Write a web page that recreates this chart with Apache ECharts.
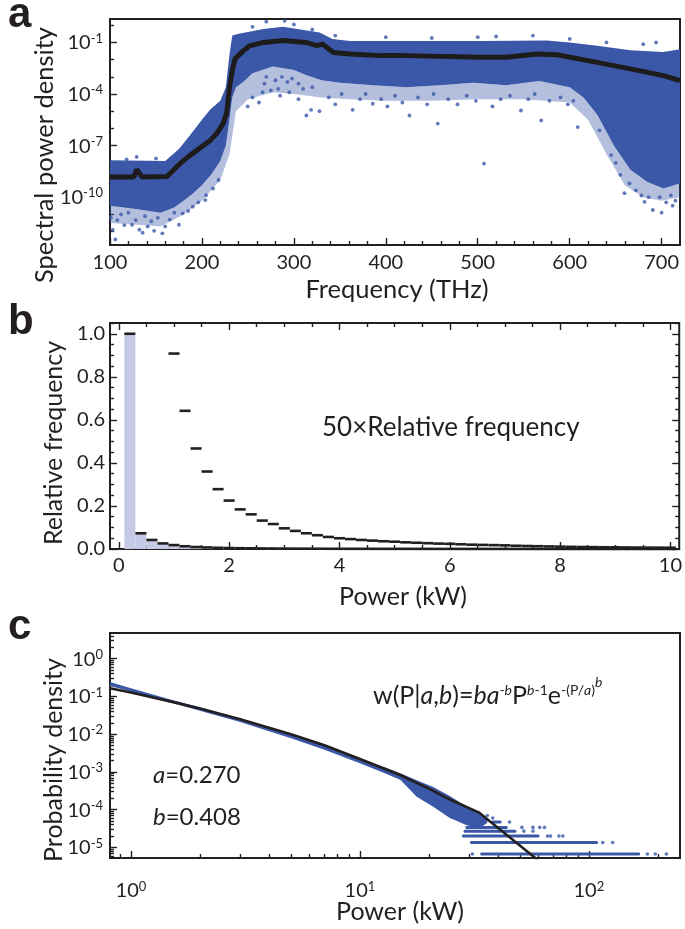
<!DOCTYPE html>
<html><head><meta charset="utf-8">
<script src="https://cdn.jsdelivr.net/npm/echarts@6/dist/echarts.min.js"></script>
<style>html,body{margin:0;padding:0;background:#fff}#c{width:685px;height:929px}</style>
</head><body><div id="c"></div>
<script>
// ================= Panel a : spectral power density =================
const freqTicks = [100, 200, 300, 400, 500, 600, 700];
const specTicks = [1e-10, 1e-7, 1e-4, 1e-1];
// black mean line
const specFreq = [100, 126, 129, 132, 135, 162, 176, 187, 209, 216, 223, 227, 230, 233, 236, 245, 252, 267, 288, 313, 325, 331, 343, 361, 394, 422, 503, 531, 564, 586, 630, 666, 702, 720];
const specMean = [1.5e-9, 1.5e-9, 4.0e-9, 2.5e-9, 1.5e-9, 1.6e-9, 8.9e-9, 2.7e-8, 2.0e-7, 5.0e-7, 1.9e-6, 8.0e-6, 2.5e-4, 2.3e-3, 1.1e-2, 3.3e-2, 6.3e-2, 0.10, 0.13, 0.10, 0.065, 0.08, 0.026, 0.021, 0.017, 0.017, 0.0135, 0.0135, 0.021, 0.019, 0.0069, 0.0029, 0.00117, 0.0006];
// dense blue cloud: upper and lower envelopes
const cloudTopFreq = [100, 160, 175, 187, 200, 209, 220, 226, 230, 233, 240, 267, 288, 328, 342, 361, 394, 503, 575, 600, 630, 666, 702, 720];
const cloudTop = [1.4e-8, 1.26e-8, 6.3e-8, 4e-7, 3.2e-6, 1.26e-5, 4e-5, 2.5e-4, 0.02, 0.25, 0.32, 0.6, 0.8, 0.38, 0.16, 0.12, 0.12, 0.12, 0.13, 0.1, 0.063, 0.035, 0.028, 0.04];
const cloudLowFreq = [100, 130, 155, 170, 180, 190, 200, 210, 220, 226, 230, 233, 237, 245, 255, 277, 300, 313, 330, 350, 386, 422, 459, 495, 531, 567, 600, 615, 630, 648, 666, 684, 702, 720];
const cloudLow = [3.2e-11, 2e-11, 1.26e-11, 2.5e-11, 6.3e-11, 1.6e-10, 5e-10, 2e-9, 1.26e-8, 1e-7, 3.2e-6, 6.3e-5, 2.5e-4, 5e-4, 1.6e-3, 4e-3, 2.5e-3, 1.26e-3, 6.3e-4, 4.5e-4, 3.2e-4, 2.5e-4, 3.2e-4, 4.5e-4, 3.2e-4, 5.6e-4, 2.5e-4, 6.3e-5, 6.3e-6, 1e-7, 4e-9, 7.9e-10, 3.2e-10, 6.3e-10];
// sparse fringe below the dense cloud
const cloudFringeFreq = [100, 130, 155, 180, 200, 220, 230, 237, 250, 277, 300, 330, 360, 400, 450, 500, 550, 600, 620, 640, 660, 680, 700, 720];
const cloudFringe = [3.2e-12, 2.5e-12, 2e-12, 1e-11, 6.3e-11, 1e-9, 3.2e-8, 1e-5, 5e-5, 1.26e-4, 1e-4, 6.3e-5, 5e-5, 4e-5, 4e-5, 5e-5, 5e-5, 3.2e-5, 3.2e-6, 3.2e-8, 5e-10, 1e-10, 6.3e-11, 1e-10];
// sparse points outside the dense cloud
const specOutFreq = [105.8, 131.9, 135.5, 148, 157, 115.6, 128, 179, 190, 204.5, 108, 203.7, 112, 120, 138, 145, 152, 165, 170, 175, 185, 196, 212, 218, 124, 141, 160, 101, 103,
  129, 118, 150,
  249.7, 266, 313.6, 318.7, 327.8, 364, 385.8, 401.8, 425.7, 456.5, 506.8, 516, 547, 569, 608.8, 632.4, 645, 659.6, 681.4, 690.4,
  255, 262, 275, 285, 295, 305, 338, 345, 352, 372, 378, 395, 410, 418, 435, 445, 452, 468, 478, 488, 498, 525, 535, 555, 562, 578, 590, 598, 604,
  270, 280, 287, 293, 298, 305, 310, 320, 268, 283,
  650, 655, 665, 672, 678, 686, 698, 705, 710, 715, 700, 712,
  270, 290, 300, 255, 320, 345, 400, 450, 500, 520, 560, 600, 640, 680, 694];
const specOutVal = [3.5e-13, 1.3e-12, 8.7e-13, 1.1e-12, 7.9e-13, 2.4e-12, 4.7e-12, 1.15e-11, 2.8e-11, 1.3e-10, 4.7e-12, 6.8e-11, 1e-11, 1.26e-11, 7.9e-12, 4e-12, 6.3e-12, 5e-12, 1.26e-11, 2.5e-12, 1.6e-11, 5e-11, 3.2e-10, 1e-9, 2.5e-12, 2e-12, 2e-12, 6.3e-12, 1.26e-12,
  2.2e-8, 1.6e-8, 1.8e-8,
  1.9e-5, 1.26e-4, 5.6e-6, 1.2e-5, 1e-5, 1.2e-5, 2.7e-5, 1.9e-5, 5.6e-6, 1.9e-6, 8.9e-9, 1.9e-5, 1.1e-5, 2.9e-6, 1.2e-6, 7.6e-7, 2.8e-8, 1.7e-10, 5.4e-11, 1.8e-11,
  6.3e-5, 3.2e-5, 1.6e-4, 7.9e-5, 1.26e-4, 5e-5, 6.3e-5, 2.5e-5, 1e-4, 5e-5, 1e-4, 5e-5, 7.9e-5, 3.2e-5, 6.3e-5, 2.5e-5, 1e-4, 5e-5, 2.5e-5, 7.9e-5, 4e-5, 5e-5, 7.9e-5, 5e-5, 1e-4, 4e-5, 6.3e-5, 2.5e-5, 4e-5,
  1e-3, 6.3e-4, 1e-3, 5e-4, 7.9e-4, 4e-4, 2e-4, 2.5e-4, 4e-4, 2e-4,
  1e-8, 2e-9, 6.3e-10, 2.5e-10, 1.26e-10, 1e-10, 1e-10, 5e-11, 1.26e-10, 6.3e-11, 1.26e-11, 3.2e-11,
  1.6, 1.8, 1.1, 0.8, 0.56, 0.25, 0.2, 0.18, 0.2, 0.22, 0.25, 0.16, 0.1, 0.079, 0.1];

// ================= Panel b : histogram =================
const powerTicks = [0, 2, 4, 6, 8, 10];
const relTicks = [0, 0.2, 0.4, 0.6, 0.8, 1.0];
const powerBins = [0.2, 0.4, 0.6, 0.8, 1.0, 1.2, 1.4, 1.6, 1.8, 2.0, 2.2, 2.4, 2.6, 2.8, 3.0, 3.2, 3.4, 3.6, 3.8, 4.0,
  4.2, 4.4, 4.6, 4.8, 5.0, 5.2, 5.4, 5.6, 5.8, 6.0, 6.2, 6.4, 6.6, 6.8, 7.0, 7.2, 7.4, 7.6, 7.8, 8.0,
  8.2, 8.4, 8.6, 8.8, 9.0, 9.2, 9.4, 9.6, 9.8, 10.0];
const relFreq = [1.0, 0.073, 0.042, 0.026, 0.0182, 0.0128, 0.0093, 0.0072, 0.0056, 0.0045, 0.0037, 0.0032, 0.0026, 0.0023, 0.0019, 0.0017, 0.0015, 0.0013, 0.0011, 0.001,
  0.0009, 0.00084, 0.00078, 0.00072, 0.00068, 0.00062, 0.00058, 0.00054, 0.0005, 0.00048, 0.00044, 0.0004, 0.00038, 0.00036, 0.00034, 0.0003, 0.00028, 0.00026, 0.00024, 0.00022,
  0.0002, 0.00019, 0.00018, 0.00016, 0.00016, 0.00014, 0.00014, 0.00013, 0.00012, 0.00012];
const relFreq50 = [null, null, null, null, 0.908, 0.642, 0.467, 0.360, 0.278, 0.225, 0.184, 0.161, 0.132, 0.116, 0.096, 0.084, 0.073, 0.064, 0.056, 0.050,
  0.046, 0.042, 0.039, 0.036, 0.034, 0.031, 0.029, 0.027, 0.025, 0.024, 0.022, 0.020, 0.019, 0.018, 0.017, 0.015, 0.014, 0.013, 0.012, 0.011,
  0.010, 0.0093, 0.0088, 0.0082, 0.0078, 0.0072, 0.0068, 0.0065, 0.0062, 0.0060];

// ================= Panel c : probability density =================
const pTicks = [1, 10, 100];
const pdfTicks = [1, 0.1, 0.01, 0.001, 1e-4, 1e-5];
const fitP = [0.81, 1, 1.5, 2, 3, 5, 7, 10, 15, 20, 25, 33, 60];
const fitW = [0.165, 0.127, 0.073, 0.048, 0.025, 0.010, 0.0051, 0.0022, 8.3e-4, 3.6e-4, 1.8e-4, 8.5e-5, 4.6e-6];
const pdfP = [0.81, 1, 1.5, 2, 3, 5, 7, 10, 13, 15, 17.7, 20.9, 24.7, 29.3, 33.4, 36];
const pdfHi = [0.24, 0.165, 0.082, 0.052, 0.026, 0.0098, 0.005, 0.0022, 0.0013, 9.2e-4, 6.0e-4, 4.0e-4, 2.3e-4, 1.2e-4, 8.7e-5, 5.5e-5];
const pdfLo = [0.19, 0.135, 0.068, 0.042, 0.021, 0.0078, 0.0039, 0.0017, 9.0e-4, 6.2e-4, 2.2e-4, 1.2e-4, 6.0e-5, 3.9e-5, 3.2e-5, 4.5e-5];
// quantised tail rows: start P, end P, level
const rowStart = [34, 30.7, 28.3, 28.8, 29.3, 38];
const rowEnd = [165, 108, 60, 47.5, 43.6, 41];
const rowLevel = [6.7e-6, 1.35e-5, 2.0e-5, 2.7e-5, 3.4e-5, 4.7e-5];
const tailP = [31, 180, 195, 218, 115, 127, 66, 68, 74, 77, 52, 57, 51, 57, 61, 64, 45, 36, 38];
const tailW = [6.7e-6, 6.7e-6, 6.7e-6, 6.7e-6, 1.35e-5, 1.35e-5, 2.0e-5, 2.0e-5, 2.0e-5, 2.0e-5, 2.7e-5, 2.7e-5, 3.4e-5, 3.4e-5, 3.4e-5, 3.4e-5, 4.7e-5, 7e-5, 6e-5];

// ================= styling =================
const F = 'Lato';
const INK = '#231f20';
const BLUE = '#3b58a8';
const LAV = '#c5c9e6';
const zip = (a, b) => a.map((v, i) => [v, b[i]]);

const freqMinor = []; for (let f = 120; f < 720; f += 20) if (f % 100) freqMinor.push(f);
const specMinor = [1e-12, 1e-11, 1e-9, 1e-8, 1e-6, 1e-5, 1e-3, 1e-2, 1];
const powerMinor = []; for (let k = 1; k <= 20; k++) if (k % 4) powerMinor.push(k * 0.5);
const relMinor = []; for (let k = 1; k <= 21; k++) if (k % 4) relMinor.push(k * 0.05);
const pMinor = [0.9]; [1, 10].forEach(d => { for (let k = 2; k <= 9; k++) pMinor.push(k * d); }); pMinor.push(200);
const pdfMinor = []; [1e-6, 1e-5, 1e-4, 1e-3, 1e-2, 1e-1, 1].forEach(d => { for (let k = 2; k <= 9; k++) pdfMinor.push(k * d); });

const supLabel = v => { const e = Math.round(Math.log10(v)); return '{b|10}{s|' + (e < 0 ? '-' + (-e) : e) + '}'; };
const supRich = {
  b: { fontFamily: F, fontSize: 20, color: INK, verticalAlign: 'bottom' },
  s: { fontFamily: F, fontSize: 13, color: INK, verticalAlign: 'bottom', padding: [0, 0, 8, 0] }
};

function axis(grid, type, pos, min, max, o) {
  const a = {
    gridIndex: grid, type: type, position: pos, min: min, max: max,
    axisLine: { show: !!o.line, onZero: false, lineStyle: { color: INK, width: 2 } },
    axisTick: { show: true, inside: true, length: o.len || 7, customValues: o.ticks, lineStyle: { color: INK, width: 1.4 } },
    axisLabel: o.labels ? Object.assign({ customValues: o.ticks, fontFamily: F, fontSize: 20, color: INK, margin: o.margin || 8 }, o.labelOpt || {}) : { show: false },
    splitLine: { show: false }, minorTick: { show: false }
  };
  if (type === 'log') a.logBase = 10;
  return a;
}

const gridBox = { show: true, borderColor: INK, borderWidth: 2, backgroundColor: 'transparent' };

function band(xi, yi, topX, topY, lowX, lowY, fill, opacity) {
  return { type: 'custom', xAxisIndex: xi, yAxisIndex: yi, silent: true, data: [[topX[0], topY[0]]],
    renderItem: (params, api) => {
      const pts = [];
      topX.forEach((x, i) => pts.push(api.coord([x, topY[i]])));
      for (let i = lowX.length - 1; i >= 0; i--) pts.push(api.coord([lowX[i], lowY[i]]));
      return { type: 'polygon', shape: { points: pts }, style: { fill: fill, opacity: opacity } };
    } };
}

const option = {
  animation: false,
  grid: [
    Object.assign({ left: 110, top: 19, width: 570, height: 226 }, gridBox),
    Object.assign({ left: 110, top: 323, width: 570, height: 226 }, gridBox),
    Object.assign({ left: 110, top: 633, width: 570, height: 225 }, gridBox)
  ],
  xAxis: [
    axis(0, 'value', 'bottom', 100, 720, { line: true, ticks: freqTicks, labels: true }),
    axis(0, 'value', 'bottom', 100, 720, { ticks: freqMinor, len: 4 }),
    axis(1, 'value', 'bottom', -0.16, 10.16, { line: true, ticks: powerTicks, labels: true, margin: 7 }),
    axis(1, 'value', 'bottom', -0.16, 10.16, { ticks: powerMinor, len: 4 }),
    axis(1, 'value', 'top', -0.16, 10.16, { ticks: powerTicks }),
    axis(1, 'value', 'top', -0.16, 10.16, { ticks: powerMinor, len: 4 }),
    axis(2, 'log', 'bottom', 0.81, 250, { line: true, ticks: pTicks, labels: true, margin: 22,
      labelOpt: { formatter: supLabel, rich: supRich } }),
    axis(2, 'log', 'bottom', 0.81, 250, { ticks: pMinor, len: 4 })
  ],
  yAxis: [
    axis(0, 'log', 'left', 1.66e-13, 2.29, { line: true, ticks: specTicks, labels: true, margin: 7,
      labelOpt: { formatter: supLabel, rich: supRich } }),
    axis(0, 'log', 'left', 1.66e-13, 2.29, { ticks: specMinor, len: 4 }),
    axis(1, 'value', 'left', 0, 1.05, { line: true, ticks: relTicks, labels: true, margin: 5,
      labelOpt: { formatter: v => v.toFixed(1) } }),
    axis(1, 'value', 'left', 0, 1.05, { ticks: relMinor, len: 4 }),
    axis(1, 'value', 'right', 0, 1.05, { ticks: relTicks }),
    axis(1, 'value', 'right', 0, 1.05, { ticks: relMinor, len: 4 }),
    axis(2, 'log', 'left', 5.25e-6, 4.8, { line: true, ticks: pdfTicks, labels: true, margin: 7,
      labelOpt: { formatter: supLabel, rich: supRich } }),
    axis(2, 'log', 'left', 5.25e-6, 4.8, { ticks: pdfMinor, len: 4 })
  ],
  series: [
    // ---- panel a ----
    band(0, 0, cloudLowFreq, cloudLow, cloudFringeFreq, cloudFringe, BLUE, 0.38),
    band(0, 0, cloudTopFreq, cloudTop, cloudLowFreq, cloudLow, BLUE, 1),
    { type: 'scatter', xAxisIndex: 0, yAxisIndex: 0, silent: true, symbolSize: 3.8,
      itemStyle: { color: BLUE }, data: zip(specOutFreq, specOutVal) },
    { type: 'line', xAxisIndex: 0, yAxisIndex: 0, silent: true, symbol: 'none',
      lineStyle: { color: '#1d1b1c', width: 5 }, data: zip(specFreq, specMean) },
    // ---- panel b ----
    { type: 'custom', xAxisIndex: 2, yAxisIndex: 2, silent: true, data: zip(powerBins, relFreq),
      renderItem: (params, api) => {
        const half = (powerBins[1] - powerBins[0]) / 2;
        const x = api.value(0), y = api.value(1);
        const p0 = api.coord([x - half, 0]), p1 = api.coord([x + half, y]);
        return { type: 'group', children: [
          { type: 'rect', shape: { x: p0[0], y: p1[1], width: p1[0] - p0[0], height: p0[1] - p1[1] }, style: { fill: LAV } },
          { type: 'line', shape: { x1: p0[0], y1: p1[1], x2: p1[0], y2: p1[1] }, style: { stroke: INK, lineWidth: 2.6 } }
        ] };
      } },
    { type: 'custom', xAxisIndex: 2, yAxisIndex: 2, silent: true,
      data: zip(powerBins, relFreq50).filter(d => d[1] !== null),
      renderItem: (params, api) => {
        const half = (powerBins[1] - powerBins[0]) / 2;
        const x = api.value(0), y = api.value(1);
        if (y > 1.05) return null;
        const p0 = api.coord([x - half, y]), p1 = api.coord([x + half, y]);
        return { type: 'line', shape: { x1: p0[0], y1: p0[1], x2: p1[0], y2: p1[1] }, style: { stroke: INK, lineWidth: 2.6 } };
      } },
    // ---- panel c ----
    band(6, 6, pdfP, pdfHi, pdfP, pdfLo, BLUE, 1),
    { type: 'custom', xAxisIndex: 6, yAxisIndex: 6, silent: true,
      data: rowLevel.map((l, i) => [rowStart[i], l, rowEnd[i]]),
      renderItem: (params, api) => {
        const a = api.coord([api.value(0), api.value(1)]), b = api.coord([api.value(2), api.value(1)]);
        return { type: 'line', shape: { x1: a[0], y1: a[1], x2: b[0], y2: b[1] }, style: { stroke: BLUE, lineWidth: 3, lineCap: 'round' } };
      } },
    { type: 'scatter', xAxisIndex: 6, yAxisIndex: 6, silent: true, symbolSize: 3.6,
      itemStyle: { color: BLUE }, data: zip(tailP, tailW) },
    { type: 'line', xAxisIndex: 6, yAxisIndex: 6, silent: true, symbol: 'none',
      lineStyle: { color: INK, width: 2.6 }, data: zip(fitP, fitW) }
  ],
  graphic: [
    { type: 'text', x: 8, y: 15, style: { text: 'a', font: 'bold 42px "Liberation Sans"', fill: INK, verticalAlign: 'middle' } },
    { type: 'text', x: 8, y: 322, style: { text: 'b', font: 'bold 42px "Liberation Sans"', fill: INK, verticalAlign: 'middle' } },
    { type: 'text', x: 8, y: 627, style: { text: 'c', font: 'bold 42px "Liberation Sans"', fill: INK, verticalAlign: 'middle' } },
    { type: 'text', x: 45, y: 155, rotation: Math.PI / 2, style: { text: 'Spectral power density', font: '25.5px ' + F, fill: INK, align: 'center', verticalAlign: 'middle' } },
    { type: 'text', x: 397, y: 290, style: { text: 'Frequency (THz)', font: '25.5px ' + F, fill: INK, align: 'center', verticalAlign: 'middle' } },
    { type: 'text', x: 54, y: 443, rotation: Math.PI / 2, style: { text: 'Relative frequency', font: '25px ' + F, fill: INK, align: 'center', verticalAlign: 'middle' } },
    { type: 'text', x: 403, y: 597, style: { text: 'Power (kW)', font: '25px ' + F, fill: INK, align: 'center', verticalAlign: 'middle' } },
    { type: 'text', x: 322, y: 428, style: { text: '50×Relative frequency', font: '26px ' + F, fill: INK, align: 'left', verticalAlign: 'middle' } },
    { type: 'text', x: 54, y: 760, rotation: Math.PI / 2, style: { text: 'Probability density', font: '25px ' + F, fill: INK, align: 'center', verticalAlign: 'middle' } },
    { type: 'text', x: 400, y: 912, style: { text: 'Power (kW)', font: '25px ' + F, fill: INK, align: 'center', verticalAlign: 'middle' } },
    { type: 'text', x: 373, y: 692, style: {
      text: '{r|w(P|}{i|a}{r|,}{i|b}{r|)=}{i|ba}{s|-}{si|b}{r|P}{si|b}{s|-1}{r|e}{s|-(P/}{si|a}{s|)}{ssi|b}',
      align: 'left', verticalAlign: 'middle',
      rich: {
        r: { fontFamily: F, fontSize: 25, fill: INK, verticalAlign: 'bottom' },
        i: { fontFamily: F, fontSize: 25, fontStyle: 'italic', fill: INK, verticalAlign: 'bottom' },
        s: { fontFamily: F, fontSize: 14, fill: INK, verticalAlign: 'bottom', padding: [0, 0, 11, 0] },
        si: { fontFamily: F, fontSize: 14, fontStyle: 'italic', fill: INK, verticalAlign: 'bottom', padding: [0, 0, 11, 0] },
        ssi: { fontFamily: F, fontSize: 14, fontStyle: 'italic', fill: INK, verticalAlign: 'bottom', padding: [0, 0, 19, 0] }
      } } },
    { type: 'text', x: 153, y: 775, style: { text: '{i|a}{r|=0.270}', align: 'left', verticalAlign: 'middle',
      rich: { r: { fontFamily: F, fontSize: 24, fill: INK }, i: { fontFamily: F, fontSize: 24, fontStyle: 'italic', fill: INK } } } },
    { type: 'text', x: 153, y: 817, style: { text: '{i|b}{r|=0.408}', align: 'left', verticalAlign: 'middle',
      rich: { r: { fontFamily: F, fontSize: 24, fill: INK }, i: { fontFamily: F, fontSize: 24, fontStyle: 'italic', fill: INK } } } }
  ]
};

const chart = echarts.init(document.getElementById('c'));
chart.setOption(option);
</script>
</body></html>
